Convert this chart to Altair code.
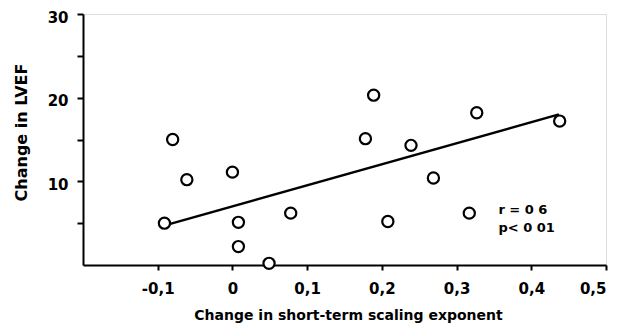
import altair as alt
import pandas as pd

# scatter points
x_vals = [-0.091, -0.080, -0.061, 0.000, 0.008, 0.008, 0.049, 0.078, 0.178, 0.189,
          0.208, 0.239, 0.269, 0.317, 0.327, 0.438]
y_vals = [5.0, 15.0, 10.2, 11.1, 5.1, 2.2, 0.2, 6.2, 15.1, 20.3,
          5.2, 14.3, 10.4, 6.2, 18.2, 17.2]

# regression line end points
fit_x = [-0.088, 0.437]
fit_y = [4.8, 18.0]

# annotation
note_text = ["r = 0 6", "p< 0 01"]
note_x = [0.356, 0.356]
note_y = [6.6, 4.4]

x_ticks = [-0.1, 0.0, 0.1, 0.2, 0.3, 0.4, 0.5]
y_ticks = [5, 10, 15, 20, 25, 30]

pts = pd.DataFrame({"x": x_vals, "y": y_vals})
fit = pd.DataFrame({"x": fit_x, "y": fit_y})
notes = pd.DataFrame({"x": note_x, "y": note_y, "t": note_text})

FONT = "DejaVu Sans"

xscale = alt.Scale(domain=[-0.2, 0.5], nice=False, zero=False)
yscale = alt.Scale(domain=[0, 30], nice=False)

xaxis = alt.Axis(
    values=x_ticks,
    labelExpr="datum.value == 0 ? '0' : replace(replace(format(datum.value, '.1f'), '.', ','), '\u2212', '-')",
    title="Change in short-term scaling exponent",
    grid=False, domainColor="black", domainWidth=2, tickColor="black", tickWidth=2, tickSize=5,
    labelFont=FONT, labelFontSize=15, labelFontWeight="bold", labelColor="black", labelPadding=11,
    titleFont=FONT, titleFontSize=14, titleFontWeight="bold", titleColor="black",
    titleX=265, titleY=50, titleBaseline="middle",
)
yaxis = alt.Axis(
    values=y_ticks,
    labelExpr="datum.value % 10 == 0 ? datum.label : ''",
    title="Change in LVEF",
    grid=False, domainColor="black", domainWidth=2, tickColor="black", tickWidth=2, tickSize=6,
    labelFont=FONT, labelFontSize=15, labelFontWeight="bold", labelColor="black", labelPadding=9,
    labelOffset=3,
    titleFont=FONT, titleFontSize=16, titleFontWeight="bold", titleColor="black",
    titleX=-62, titleY=118, titleBaseline="middle", titleAngle=270,
)

line = alt.Chart(fit).mark_line(color="black", strokeWidth=2.5).encode(
    x=alt.X("x:Q", scale=xscale, axis=xaxis),
    y=alt.Y("y:Q", scale=yscale, axis=yaxis),
)
points = alt.Chart(pts).mark_point(shape="circle", filled=True, fill="white", stroke="black",
                                   strokeWidth=2.2, size=125, opacity=1).encode(
    x=alt.X("x:Q", scale=xscale),
    y=alt.Y("y:Q", scale=yscale),
)
text = alt.Chart(notes).mark_text(align="left", baseline="middle", font=FONT, fontSize=13,
                                  fontWeight="bold", color="black").encode(
    x=alt.X("x:Q", scale=xscale),
    y=alt.Y("y:Q", scale=yscale),
    text="t:N",
)

chart = alt.layer(line, points, text).properties(
    width=523, height=251,
    autosize=alt.AutoSizeParams(type="none"),
    padding={"left": 75, "top": 6, "right": 5, "bottom": 59},
).configure_view(stroke=None).configure(background="white")

chart.save("out.html", embed_options={"renderer": "svg", "actions": False})
